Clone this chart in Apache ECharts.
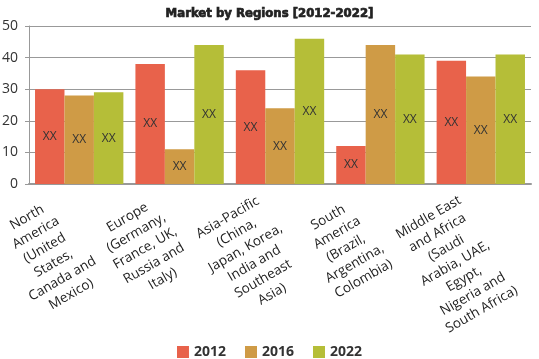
<!DOCTYPE html>
<html>
<head>
<meta charset="utf-8">
<script src="https://cdn.jsdelivr.net/npm/echarts@6/dist/echarts.min.js"></script>
<style>html,body{margin:0;padding:0;background:#fff}#c{width:539px;height:359px}</style>
</head>
<body>
<div id="c"></div>
<script>
const categories = [
  "North\nAmerica\n(United\nStates,\nCanada and\nMexico)",
  "Europe\n(Germany,\nFrance, UK,\nRussia and\nItaly)",
  "Asia-Pacific\n(China,\nJapan, Korea,\nIndia and\nSoutheast\nAsia)",
  "South\nAmerica\n(Brazil,\nArgentina,\nColombia)",
  "Middle East\nand Africa\n(Saudi\nArabia, UAE,\nEgypt,\nNigeria and\nSouth Africa)"
];
const seriesNames = ["2012", "2016", "2022"];
const values2012 = [30, 38, 36, 12, 39];
const values2016 = [28, 11, 24, 44, 34];
const values2022 = [29, 44, 46, 41, 41];
const yTicks = [0, 10, 20, 30, 40, 50];
const colors = ["#E8624B", "#CF9B46", "#B5BE38"];

const chart = echarts.init(document.getElementById('c'));
const font = "'Open Sans', sans-serif";
function bar(name, data, color) {
  return {
    name: name, type: 'bar', data: data,
    barGap: '0%', barCategoryGap: '12%',
    itemStyle: { color: color },
    label: { show: true, position: 'inside', formatter: 'XX', color: '#333', fontSize: 12, fontFamily: font }
  };
}
chart.setOption({
  animation: false,
  color: colors,
  title: {
    text: 'Market by Regions [2012-2022]', left: 'center', top: 2,
    textStyle: {
      fontFamily: "'DejaVu Sans Condensed', 'DejaVu Sans', sans-serif", fontWeight: 'bold', fontSize: 13, color: '#222',
      textBorderColor: '#222', textBorderWidth: 0.7
    }
  },
  legend: {
    data: seriesNames, top: 340, left: 'center', itemWidth: 12, itemHeight: 12, itemGap: 19,
    icon: 'rect',
    textStyle: { fontFamily: font, fontSize: 14, fontWeight: 'bold', color: '#333' }
  },
  grid: { left: 29, right: 8, top: 26, bottom: 175, containLabel: false, outerBoundsMode: 'none' },
  xAxis: {
    type: 'category', data: categories,
    axisLine: { lineStyle: { color: '#999', width: 2 } },
    axisTick: { alignWithLabel: true, length: 4, lineStyle: { color: '#999' } },
    axisLabel: {
      interval: 0, rotate: 30, align: 'center', verticalAlign: 'top', margin: -8,
      padding: [1, 132, 0, 0],
      formatter: function (v) { return v.split('\n').map(function (s) { return '{c|' + s + '}'; }).join('\n'); },
      rich: { c: { align: 'center', fontFamily: font, fontSize: 13.5, lineHeight: 17.7, color: '#222' } },
      fontFamily: font, fontSize: 13.5, lineHeight: 17.7, color: '#222'
    }
  },
  yAxis: {
    type: 'value', min: yTicks[0], max: yTicks[yTicks.length - 1], interval: 10,
    axisLine: { show: true, lineStyle: { color: '#999' } },
    axisTick: { show: true, length: 4, lineStyle: { color: '#999' } },
    splitLine: { lineStyle: { color: '#999' } },
    axisLabel: { fontFamily: font, fontSize: 14, color: '#333', margin: 11 }
  },
  series: [
    bar(seriesNames[0], values2012, colors[0]),
    bar(seriesNames[1], values2016, colors[1]),
    bar(seriesNames[2], values2022, colors[2])
  ]
});
</script>
</body>
</html>
